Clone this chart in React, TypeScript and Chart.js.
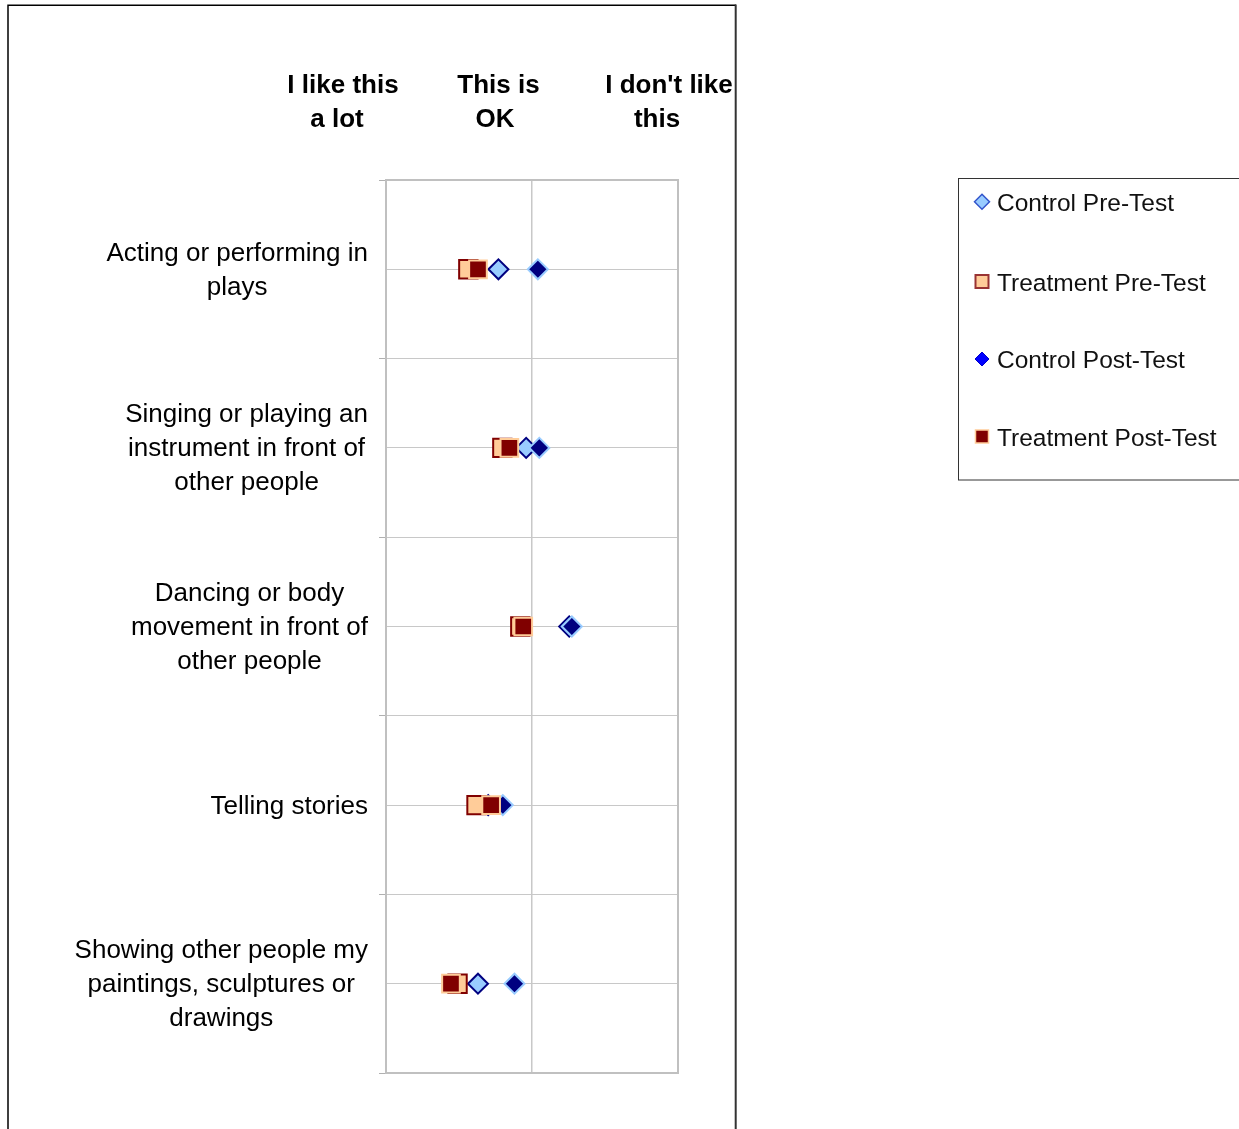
import React, { useEffect, useRef } from "react";
import { Chart, registerables } from "chart.js";

Chart.register(...registerables);

const FONT = '"Liberation Sans", Arial, Helvetica, sans-serif';

// ---- data ----
const categories: string[][] = [
  ["Acting or performing in", "plays"],
  ["Singing or playing an", "instrument in front of", "other people"],
  ["Dancing or body", "movement in front of", "other people"],
  ["Telling stories"],
  ["Showing other people my", "paintings, sculptures or", "drawings"],
];
const headerLabels: string[][] = [
  ["I like this", "a lot"],
  ["This is", "OK"],
  ["I don't like", "this"],
];
const seriesNames = ["Control Pre-Test", "Treatment Pre-Test", "Control Post-Test", "Treatment Post-Test"];
const controlPre = [1.77, 1.96, 2.255, 1.7, 1.63];
const treatmentPre = [1.564, 1.797, 1.92, 1.62, 1.49];
const controlPost = [2.04, 2.05, 2.273, 1.8, 1.88];
const treatmentPost = [1.63, 1.845, 1.94, 1.72, 1.445];

// ---- layout (pixels) ----
const HEADER_CENTERS = [
  [343, 337],
  [498.5, 495],
  [669, 657],
];
const LABEL_RIGHT = 368;

function diamond(ctx: CanvasRenderingContext2D, cx: number, cy: number, r: number, fill: string, stroke: string, lw: number) {
  ctx.beginPath();
  ctx.moveTo(cx - r, cy);
  ctx.lineTo(cx, cy - r);
  ctx.lineTo(cx + r, cy);
  ctx.lineTo(cx, cy + r);
  ctx.closePath();
  ctx.fillStyle = fill;
  ctx.fill();
  ctx.lineWidth = lw;
  ctx.strokeStyle = stroke;
  ctx.stroke();
}
function square(ctx: CanvasRenderingContext2D, cx: number, cy: number, h: number, fill: string, stroke: string, lw: number) {
  ctx.fillStyle = fill;
  ctx.fillRect(cx - h, cy - h, 2 * h, 2 * h);
  ctx.lineWidth = lw;
  ctx.strokeStyle = stroke;
  ctx.strokeRect(cx - h, cy - h, 2 * h, 2 * h);
}

const decorPlugin = {
  id: "decor",
  beforeDatasetsDraw(chart: any) {
    const { ctx, chartArea: a } = chart;
    ctx.save();
    ctx.strokeStyle = "#c0c0c0";
    ctx.lineWidth = 2;
    ctx.strokeRect(a.left, a.top, a.right - a.left, a.bottom - a.top);
    ctx.restore();
  },
  afterDraw(chart: any) {
    const ctx: CanvasRenderingContext2D = chart.ctx;
    ctx.save();
    // outer frame
    ctx.strokeStyle = "#000";
    ctx.lineWidth = 1.5;
    ctx.beginPath();
    ctx.moveTo(8, 1129);
    ctx.lineTo(8, 5.3);
    ctx.lineTo(736, 5.3);
    ctx.stroke();
    ctx.strokeStyle = "#333";
    ctx.lineWidth = 2;
    ctx.beginPath();
    ctx.moveTo(735.7, 4.5);
    ctx.lineTo(735.7, 1129);
    ctx.stroke();

    // headers
    ctx.fillStyle = "#000";
    ctx.textAlign = "center";
    ctx.textBaseline = "alphabetic";
    ctx.font = `bold 26px ${FONT}`;
    headerLabels.forEach((lines, i) =>
      lines.forEach((t, j) => ctx.fillText(t, HEADER_CENTERS[i][j], 93 + j * 34))
    );

    // category labels
    const ys = chart.scales.y;
    ctx.font = `26px ${FONT}`;
    categories.forEach((lines, i) => {
      const yc = ys.getPixelForValue(2 * i + 1);
      const w = Math.max(...lines.map((l) => ctx.measureText(l).width));
      const cx = LABEL_RIGHT - w / 2;
      lines.forEach((t, j) => ctx.fillText(t, cx, yc + (j - (lines.length - 1) / 2) * 34 + 8.5));
    });

    // legend
    ctx.strokeStyle = "#333";
    ctx.lineWidth = 1;
    ctx.strokeRect(958.5, 178.5, 300, 301.5);
    const ly = [201.7, 281.5, 359, 436.5];
    diamond(ctx, 982, ly[0], 7.5, "#99CCFF", "#3355CC", 1.5);
    square(ctx, 982, ly[1], 6.5, "#FFCC99", "#993333", 2);
    diamond(ctx, 982, ly[2], 7, "#0000FF", "#0000CC", 1);
    square(ctx, 982, ly[3], 6.5, "#800000", "#FFCC99", 1.5);
    ctx.font = `24.5px ${FONT}`;
    ctx.fillStyle = "#111";
    ctx.textAlign = "left";
    seriesNames.forEach((n, i) => ctx.fillText(n, 997, ly[i] + 9));
    ctx.restore();
  },
};

export default function App() {
  const ref = useRef<HTMLCanvasElement>(null);
  useEffect(() => {
    if (!ref.current) return;
    const pts = (arr: number[]) => arr.map((v, i) => ({ x: v, y: 2 * i + 1 }));
    const chart = new Chart(ref.current, {
      type: "scatter",
      data: {
        datasets: [
          {
            label: seriesNames[0],
            data: pts(controlPre),
            pointStyle: "rectRot",
            pointRadius: 10,
            backgroundColor: "#99CCFF",
            borderColor: "#000080",
            borderWidth: 2,
            order: 4,
          },
          {
            label: seriesNames[1],
            data: pts(treatmentPre),
            pointStyle: "rect",
            pointRadius: 13,
            backgroundColor: "#FFCC99",
            borderColor: "#800000",
            borderWidth: 2,
            order: 3,
          },
          {
            label: seriesNames[2],
            data: pts(controlPost),
            pointStyle: "rectRot",
            pointRadius: 10,
            backgroundColor: "#000080",
            borderColor: "#99CCFF",
            borderWidth: 2,
            order: 2,
          },
          {
            label: seriesNames[3],
            data: pts(treatmentPost),
            pointStyle: "rect",
            pointRadius: 12.5,
            backgroundColor: "#800000",
            borderColor: "#FFCC99",
            borderWidth: 2,
            order: 1,
          },
        ],
      },
      options: {
        responsive: false,
        animation: false,
        events: [],
        layout: { padding: { left: 0, top: 180, right: 561, bottom: 56 } },
        plugins: { legend: { display: false }, tooltip: { enabled: false } },
        scales: {
          x: {
            type: "linear",
            min: 1,
            max: 3,
            ticks: { display: false, stepSize: 1 },
            grid: { color: "#c8c8c8", lineWidth: 1.5, drawTicks: false },
            border: { display: false },
            afterFit: (s: any) => {
              s.height = 0;
            },
          },
          y: {
            type: "linear",
            reverse: true,
            min: 0,
            max: 10,
            ticks: { display: false, stepSize: 1, autoSkip: false },
            grid: {
              color: "#c8c8c8",
              lineWidth: 1,
              drawTicks: true,
              tickLength: 7,
              tickColor: (c: any) => (c.tick && c.tick.value % 2 === 0 ? "#b0b0b0" : "rgba(0,0,0,0)"),
            },
            border: { display: false },
            afterFit: (s: any) => {
              s.width = 386;
            },
          },
        },
      },
      plugins: [decorPlugin],
    } as any);
    return () => chart.destroy();
  }, []);
  return (
    <div style={{ position: "absolute", left: 0, top: 0, width: 1239, height: 1129 }}>
      <canvas ref={ref} width={1239} height={1129} />
    </div>
  );
}
